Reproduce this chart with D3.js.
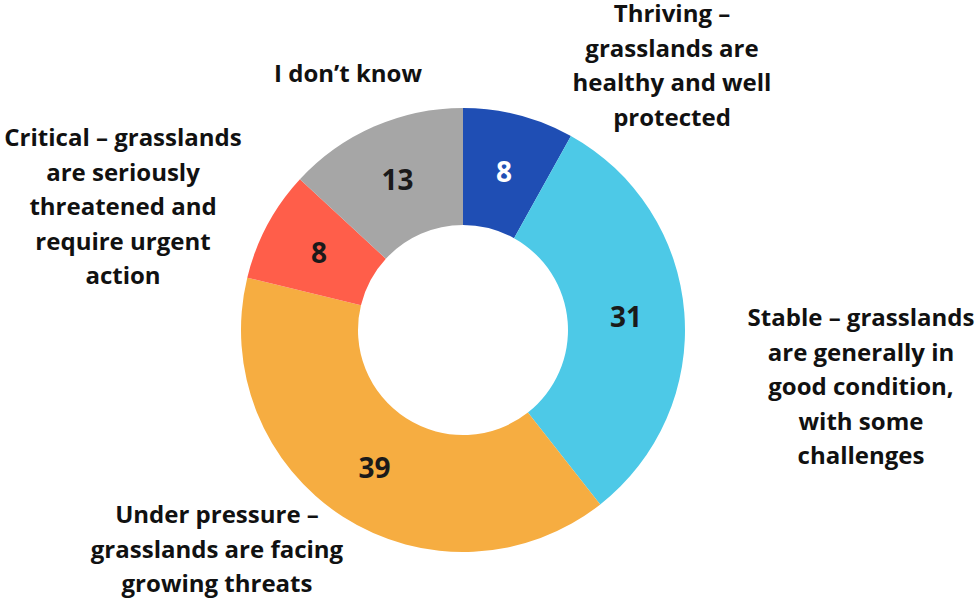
<!DOCTYPE html>
<html><head><meta charset="utf-8">
<script src="https://cdn.jsdelivr.net/npm/d3@7"></script>
<style>body{margin:0;background:#fff;} text{font-family:"Open Sans","Noto Sans",sans-serif;font-weight:700;}</style>
</head><body>
<svg id="chart" width="980" height="599"></svg>
<script>
const categories = [
  "Thriving – grasslands are healthy and well protected",
  "Stable – grasslands are generally in good condition, with some challenges",
  "Under pressure – grasslands are facing growing threats",
  "Critical – grasslands are seriously threatened and require urgent action",
  "I don’t know"
];
const values = [8, 31, 39, 8, 13];
const colors = ["#1f4eb4", "#4dc9e7", "#f6ad41", "#ff5e4a", "#a6a6a6"];
const labelLines = [
  ["Thriving –", "grasslands are", "healthy and well", "protected"],
  ["Stable – grasslands", "are generally in", "good condition,", "with some", "challenges"],
  ["Under pressure –", "grasslands are facing", "growing threats"],
  ["Critical – grasslands", "are seriously", "threatened and", "require urgent", "action"],
  ["I don’t know"]
];
// label anchor positions (center x, first-line baseline y)
const labelPos = [[672, 22], [861, 326], [217, 523], [123, 146], [348, 82]];
const valueColors = ["#ffffff", "#1a1a1a", "#1a1a1a", "#1a1a1a", "#1a1a1a"];

const svg = d3.select("#chart");
const cx = 463, cy = 330, rOuter = 222, rInner = 105;
const g = svg.append("g").attr("transform", `translate(${cx},${cy})`);
const pie = d3.pie().sort(null).value(d => d)(values);
const arc = d3.arc().innerRadius(rInner).outerRadius(rOuter);

g.selectAll("path").data(pie).enter().append("path")
  .attr("d", arc).attr("fill", (d, i) => colors[i]);

g.selectAll("text.val").data(pie).enter().append("text")
  .attr("class", "val")
  .attr("transform", d => `translate(${arc.centroid(d)})`)
  .attr("text-anchor", "middle").attr("dy", "0.36em")
  .attr("font-size", 28)
  .attr("fill", (d, i) => valueColors[i])
  .text(d => d.data);

const lh = 34.5;
labelLines.forEach((lines, i) => {
  const t = svg.append("text").attr("text-anchor", "middle")
    .attr("font-size", 24).attr("fill", "#111");
  lines.forEach((ln, j) => {
    t.append("tspan").attr("x", labelPos[i][0]).attr("y", labelPos[i][1] + j * lh).text(ln);
  });
});
</script>
</body></html>
